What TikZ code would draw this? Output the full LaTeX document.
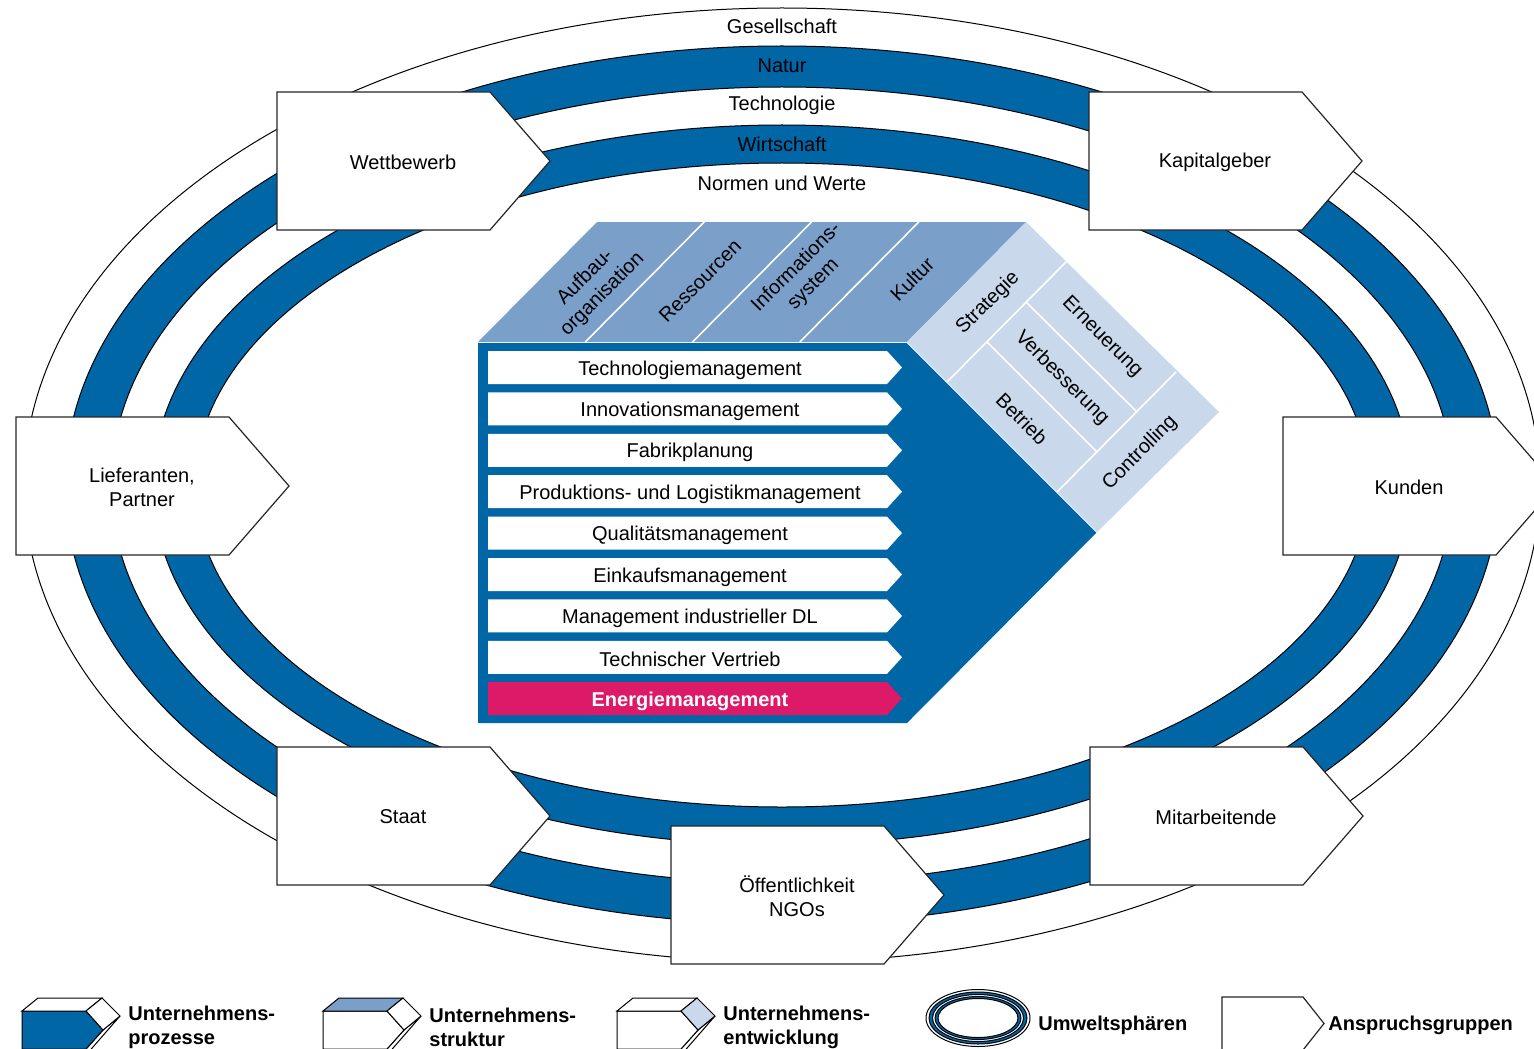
\documentclass[tikz,border=0pt]{standalone}
\usepackage{fontspec}
\setmainfont{Liberation Sans}
\usepackage{tikz}
\usetikzlibrary{positioning,calc}

\definecolor{procblue}{RGB}{0,102,166}
\definecolor{structblue}{RGB}{122,159,201}
\definecolor{devblue}{RGB}{201,216,234}
\definecolor{energypink}{RGB}{220,26,104}

\begin{document}
\begin{tikzpicture}[x=0.5pt, y=-0.5pt, font=\fontsize{10pt}{12pt}\selectfont,
    ring/.style={draw=black, line width=0.5pt},
    band/.style={fill=procblue, draw=black, line width=0.5pt, even odd rule},
    group/.style={draw=black!85, fill=white, line width=0.6pt},
    grouptext/.style={align=center, inner sep=0pt},
    proctext/.style={inner sep=0pt},
    sidetext/.style={inner sep=0pt},
    sep/.style={draw=white, line width=0.8pt},
    icon/.style={draw=black, line width=0.5pt},
    legendtext/.style={anchor=west, align=left, inner sep=0pt,
      font=\fontsize{10pt}{12pt}\selectfont\bfseries} ]

    % Frame
    \useasboundingbox (0,0) rectangle (1534,1048);
    \fill[white] (0,0) rectangle (1534,1048);
    \clip (0,0) rectangle (1534,1048);

    % Environment spheres
    \coordinate (mid) at (782,485);
    \draw[ring, fill=white] (mid) ellipse [x radius=758, y radius=477];
    \draw[band] (mid) ellipse [x radius=717, y radius=439]
      (mid) ellipse [x radius=671, y radius=398];
    \draw[band] (mid) ellipse [x radius=629, y radius=360]
      (mid) ellipse [x radius=587, y radius=322];

    % Sphere labels
    \node (gesell) at (782,26) {Gesellschaft};
    \node (natur) at (782,66) {Natur};
    \node (techno) at (782,105) {Technologie};
    \node (wirt) at (782,144) {Wirtschaft};
    \node (normen) at (782,183) {Normen und Werte};

    % Stakeholder boxes
    \foreach \x/\y/\name/\txt in {277/92/wettbewerb/Wettbewerb,
      1089/92/kapital/Kapitalgeber, 16/417/lieferant/{Lieferanten,\\Partner},
      1283/417/kunden/Kunden, 277/747/staat/Staat,
      1090/747/mitarbeit/Mitarbeitende,
      671/826/oeffentlich/{Öffentlichkeit\\NGOs}}{
      \draw[group] (\x,\y) -- ++(213,0) -- ++(60,69) -- ++(-60,69)
        -- ++(-213,0) -- cycle;
      \node[grouptext] (\name) at (\x+126,\y+70) {\txt};
    }

    % Company cube: faces
    \coordinate (ftl) at (478,342); \coordinate (ftr) at (907,342);
    \coordinate (ftip) at (1097,532); \coordinate (fbr) at (907,723);
    \coordinate (fbl) at (478,723);
    \fill[procblue] (ftl) -- (ftr) -- (ftip) -- (fbr) -- (fbl) -- cycle;
    \filldraw[structblue, sep] (ftl) -- ++(119,-120) -- ($(ftr)+(119,-120)$)
      -- (ftr) -- cycle;
    \filldraw[devblue, sep] (ftr) -- ++(119,-120) -- ($(ftip)+(122,-120)$)
      -- (ftip) -- cycle;
    \fill[structblue] (ftl) -- ++(119,-120) -- ($(ftr)+(119,-120)$)
      -- (ftr) -- cycle;
    \fill[devblue] (ftr) -- ++(119,-120) -- ($(ftip)+(122,-120)$)
      -- (ftip) -- cycle;

    % Structure slots on top
    \foreach \f in {0.25,0.5,0.75}
      \draw[sep] ($(ftl)!\f!(ftr)$) -- ++(119,-120);
    \node[rotate=45, align=center, sidetext] (aufbau) at (594,286)
      {Aufbau-\\organisation};
    \node[rotate=45, sidetext] (ressourcen) at (700,281) {Ressourcen};
    \node[rotate=45, align=center, sidetext] (infosys) at (805,276)
      {Informations-\\system};
    \node[rotate=45, sidetext] (kultur) at (912,279) {Kultur};

    % Development fields on the side
    \draw[sep] (947,382) -- ++(119,-120);
    \draw[sep] (1057,492) -- ++(119,-120);
    \draw[sep] (987,342) -- (1097,452);
    \draw[sep] (1026,302) -- (1137,412);
    \node[rotate=45, sidetext] (strategie) at (988,303) {Strategie};
    \node[rotate=-45, sidetext] (erneuerung) at (1102,337) {Erneuerung};
    \node[rotate=-45, sidetext] (verbesserung) at (1062,378) {Verbesserung};
    \node[rotate=-45, sidetext] (betrieb) at (1022,419) {Betrieb};
    \node[rotate=45, sidetext] (controlling) at (1140,453) {Controlling};

    % Process arrows
    \foreach \txt [count=\i from 0] in {Technologiemanagement,
      Innovationsmanagement, Fabrikplanung,
      {Produktions- und Logistikmanagement}, Qualitätsmanagement,
      Einkaufsmanagement, {Management industrieller DL},
      {Technischer Vertrieb}}{
      \pgfmathsetmacro\ytop{351+41.4*\i}
      \fill[white] (488,\ytop) -- (887,\ytop) -- (902,\ytop+16.5)
        -- (887,\ytop+33) -- (488,\ytop+33) -- cycle;
      \node[proctext] (proc\i) at (690,\ytop+19) {\txt};
    }
    \fill[energypink] (488,682) -- (887,682) -- (902,698.5) -- (887,715)
      -- (488,715) -- cycle;
    \node[proctext, text=white, font=\fontsize{10pt}{12pt}\selectfont\bfseries]
      (energie) at (690,701) {Energiemanagement};

    % Legend cubes
    \foreach \x/\fr/\tp/\rt/\txt in {22/procblue/white/white/{Unternehmens-\\prozesse},
      323/white/structblue/white/{Unternehmens-\\struktur},
      617/white/white/devblue/{Unternehmens-\\entwicklung}}{
      \filldraw[icon, fill=white] (\x+98,1016) -- (\x+81,1030) -- ++(-34,38)
        -- ++(17,-13) -- cycle;
      \filldraw[icon, fill=\fr] (\x,1011) -- ++(64,0) -- ++(17,19)
        -- ++(-17,19) -- ++(-64,0) -- cycle;
      \filldraw[icon, fill=\tp] (\x,1011) -- ++(16,-13) -- ++(64,0)
        -- ++(-16,13) -- cycle;
      \filldraw[icon, fill=\rt] (\x+64,1011) -- ++(16,-13) -- ++(18,18)
        -- ++(-17,14) -- cycle;
      \node[legendtext] at (\x+106,1027) {\txt};
    }

    % Legend spheres
    \coordinate (lsph) at (978,1018);
    \draw[ring, fill=white] (lsph) ellipse [x radius=52, y radius=28.5];
    \draw[band] (lsph) ellipse [x radius=49, y radius=26]
      (lsph) ellipse [x radius=45.5, y radius=23.5];
    \draw[band] (lsph) ellipse [x radius=43, y radius=21.5]
      (lsph) ellipse [x radius=40, y radius=19.5];
    \node[legendtext] (lsphtext) at (1038,1025) {Umweltsphären};

    % Legend stakeholders
    \draw[group] (1222,997) -- (1303,997) -- (1324,1023.5) -- (1303,1050)
      -- (1222,1050) -- cycle;
    \node[legendtext] (lgrptext) at (1328,1025) {Anspruchsgruppen};

\end{tikzpicture}
\end{document}
